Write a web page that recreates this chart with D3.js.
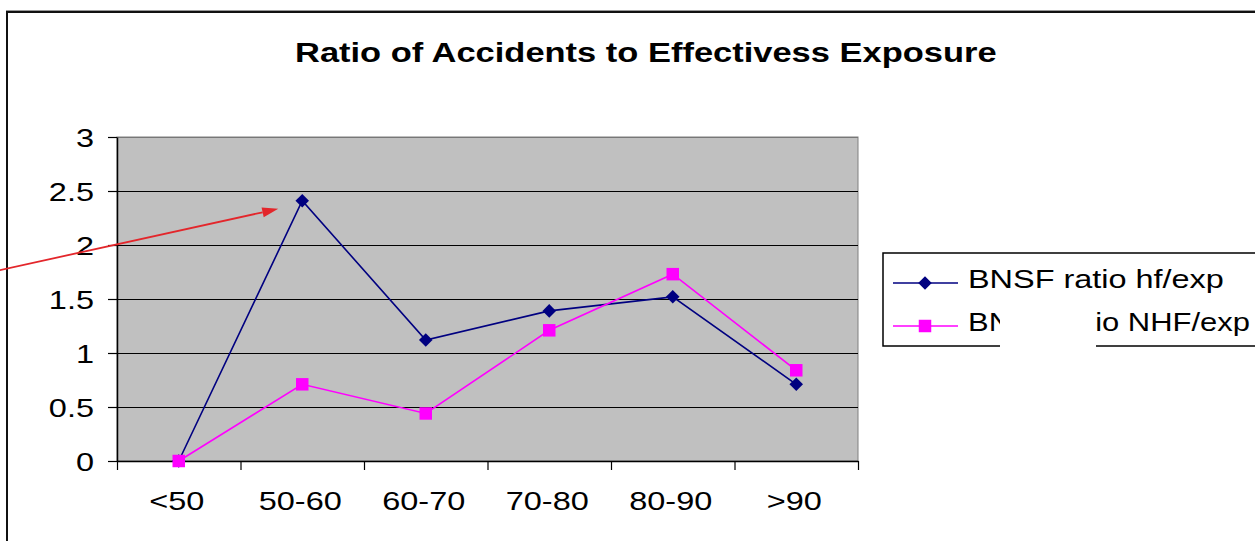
<!DOCTYPE html>
<html>
<head>
<meta charset="utf-8">
<script src="https://cdn.jsdelivr.net/npm/d3@7"></script>
<style>
  html, body { margin: 0; padding: 0; background: #fff; overflow: hidden; }
  svg { display: block; font-family: Arial, "Liberation Sans", sans-serif; }
</style>
</head>
<body>
<svg id="chart" width="1255" height="541"></svg>
<script>
// ---- data ----
const categories = ["<50", "50-60", "60-70", "70-80", "80-90", ">90"];
const hfRatio  = [0, 2.41, 1.12, 1.39, 1.52, 0.71];
const nhfRatio = [0, 0.71, 0.44, 1.21, 1.73, 0.84];
const yTicks = [0, 0.5, 1, 1.5, 2, 2.5, 3];
const yTickLabels = ["0", "0.5", "1", "1.5", "2", "2.5", "3"];
const seriesNames = ["BNSF ratio hf/exp", "BNSF ratio NHF/exp"];
const titleText = "Ratio of Accidents to Effectivess Exposure";

// ---- layout ----
const svg = d3.select("#chart");
const plot = { left: 117, right: 858, top: 137, bottom: 461 };
const TEXT_SX = 1.3;               // wide glyph look of the chart fonts

const x = d3.scaleBand().domain(categories).range([plot.left, plot.right]).padding(0);
const y = d3.scaleLinear().domain([0, 3]).range([plot.bottom, plot.top]);
const cx = c => x(c) + x.bandwidth() / 2;
const edges = d3.scaleLinear().domain([0, categories.length]).range([plot.left, plot.right]);

// horizontally stretched text anchored at (px, py)
function stretchedText(parent, str, px, py, sx, attrs) {
  const t = parent.append("text")
    .attr("x", 0).attr("y", 0)
    .attr("transform", `translate(${px},${py}) scale(${sx},1)`)
    .text(str);
  Object.entries(attrs || {}).forEach(([k, v]) => t.attr(k, v));
  return t;
}
function fitText(parent, str, px, py, width, attrs) {
  const t = stretchedText(parent, str, px, py, 1, attrs);
  const sx = width / t.node().getComputedTextLength();
  t.attr("transform", `translate(${px},${py}) scale(${sx},1)`);
  return sx;
}

// ---- outer chart frame ----
svg.append("line").attr("x1", 6).attr("x2", 1260).attr("y1", 10.5).attr("y2", 10.5)
  .attr("stroke", "#999").attr("stroke-width", 1);
svg.append("rect").attr("x", 7).attr("y", 12).attr("width", 1300).attr("height", 600)
  .attr("fill", "none").attr("stroke", "#111").attr("stroke-width", 2);

// ---- title ----
fitText(svg, titleText, 295, 62, 702, {
  "font-size": 28, "font-weight": "bold", "fill": "#000"
});

// ---- plot area ----
svg.append("rect")
  .attr("x", plot.left).attr("y", plot.top)
  .attr("width", plot.right - plot.left).attr("height", plot.bottom - plot.top)
  .attr("fill", "#c0c0c0").attr("stroke", "#808080").attr("stroke-width", 1);

// gridlines
svg.append("g").selectAll("line").data(yTicks.filter(d => d > 0)).join("line")
  .attr("x1", plot.left).attr("x2", plot.right)
  .attr("y1", d => Math.round(y(d)) + 0.5).attr("y2", d => Math.round(y(d)) + 0.5)
  .attr("stroke", d => d === 3 ? "#777" : "#000").attr("stroke-width", 1.2);

// ---- y axis ----
const yAxis = svg.append("g")
  .attr("transform", `translate(${plot.left},0)`)
  .call(d3.axisLeft(y).tickValues(yTicks).tickSize(9).tickSizeOuter(0)
    .tickFormat((d, i) => yTickLabels[i]));
yAxis.select(".domain").attr("stroke", "#000").attr("stroke-width", 1.5);
yAxis.selectAll(".tick line").attr("stroke", "#000").attr("stroke-width", 1.2);
yAxis.selectAll(".tick text")
  .attr("font-size", 25).attr("font-family", "Arial, 'Liberation Sans', sans-serif")
  .attr("fill", "#000")
  .attr("x", -23 / TEXT_SX).attr("dy", "0.36em")
  .attr("transform", `scale(${TEXT_SX},1)`);

// ---- x axis: tick marks at category boundaries ----
const xTicks = svg.append("g")
  .attr("transform", `translate(0,${plot.bottom})`)
  .call(d3.axisBottom(edges).tickValues(d3.range(categories.length + 1))
    .tickSize(9).tickSizeOuter(0).tickFormat(""));
xTicks.select(".domain").attr("stroke", "#000").attr("stroke-width", 1.5);
xTicks.selectAll(".tick line").attr("stroke", "#000").attr("stroke-width", 1.2);

// category labels centred in each band
const xLabels = svg.append("g")
  .attr("transform", `translate(0,${plot.bottom})`)
  .call(d3.axisBottom(x).tickSize(0).tickPadding(31));
xLabels.select(".domain").remove();
xLabels.selectAll(".tick text")
  .attr("font-size", 25).attr("font-family", "Arial, 'Liberation Sans', sans-serif")
  .attr("fill", "#000")
  .attr("x", -2 / TEXT_SX)
  .attr("transform", `scale(${TEXT_SX},1)`);

// ---- series ----
const diamond = {
  draw(ctx, size) {
    const r = Math.sqrt(size / 2);
    ctx.moveTo(0, -r); ctx.lineTo(r, 0); ctx.lineTo(0, r); ctx.lineTo(-r, 0); ctx.closePath();
  }
};
const series = [
  { name: seriesNames[0], values: hfRatio,  color: "#000080", symbol: diamond,          size: 92 },
  { name: seriesNames[1], values: nhfRatio, color: "#ff00ff", symbol: d3.symbolSquare, size: 156 }
];
const line = d3.line().x((d, i) => cx(categories[i])).y(d => y(d));

series.forEach(s => {
  const g = svg.append("g");
  g.append("path").datum(s.values)
    .attr("d", line).attr("fill", "none")
    .attr("stroke", s.color).attr("stroke-width", 1.6);
  g.selectAll("path.pt").data(s.values).join("path").attr("class", "pt")
    .attr("transform", (d, i) => `translate(${cx(categories[i])},${y(d)})`)
    .attr("d", d3.symbol().type(s.symbol).size(s.size))
    .attr("fill", s.color);
});

// ---- annotation arrow pointing at the 50-60 peak ----
const tipX = cx("50-60") - 24, tipY = y(2.335);
const startX = -4, startY = 271;
const ang = Math.atan2(tipY - startY, tipX - startX);
const headLen = 16, headHalf = 5;
const bx = tipX - headLen * Math.cos(ang), by = tipY - headLen * Math.sin(ang);
svg.append("line")
  .attr("x1", startX).attr("y1", startY).attr("x2", bx).attr("y2", by)
  .attr("stroke", "#e3262b").attr("stroke-width", 1.8);
svg.append("path")
  .attr("d", `M${tipX},${tipY}L${bx - headHalf * Math.sin(ang)},${by + headHalf * Math.cos(ang)}L${bx + headHalf * Math.sin(ang)},${by - headHalf * Math.cos(ang)}Z`)
  .attr("fill", "#e3262b");

// ---- legend ----
const legend = svg.append("g");
legend.append("rect")
  .attr("x", 883).attr("y", 253).attr("width", 420).attr("height", 93)
  .attr("fill", "#fff").attr("stroke", "#000").attr("stroke-width", 1.5);
const rowY = [283, 326];
const rowWidth = [256, 282];
series.forEach((s, i) => {
  legend.append("line")
    .attr("x1", 893).attr("x2", 958).attr("y1", rowY[i]).attr("y2", rowY[i])
    .attr("stroke", s.color).attr("stroke-width", 1.6);
  legend.append("path")
    .attr("transform", `translate(925,${rowY[i]})`)
    .attr("d", d3.symbol().type(s.symbol).size(s.size))
    .attr("fill", s.color);
  fitText(legend, s.name, 968, rowY[i] + 5, rowWidth[i], { "font-size": 26, "fill": "#000" });
});
// blank patch over the middle of the second legend entry
legend.append("rect")
  .attr("x", 1000).attr("y", 309).attr("width", 96).attr("height", 44)
  .attr("fill", "#fff");
</script>
</body>
</html>
